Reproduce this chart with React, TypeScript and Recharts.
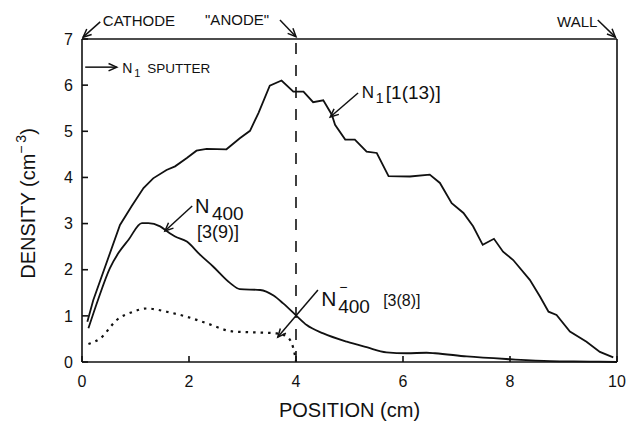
import React from "react";
import {
  LineChart,
  Line,
  XAxis,
  YAxis,
  ReferenceLine,
  ReferenceDot,
  Label,
} from "recharts";

// N1 [1(13)] density
const n1X = [
  0.1, 0.21, 0.71, 0.93, 1.15, 1.33, 1.58, 1.74, 1.96, 2.14, 2.33, 2.7, 2.95,
  3.14, 3.3, 3.51, 3.73, 3.95, 4.14, 4.32, 4.51, 4.67, 4.73, 4.92, 5.1, 5.32,
  5.51, 5.73, 6.13, 6.5, 6.69, 6.91, 7.13, 7.31, 7.49, 7.7, 7.87, 8.06, 8.37,
  8.56, 8.72, 8.87, 9.12, 9.43, 9.68, 9.93,
];
const n1Y = [
  0.87, 1.34, 2.97, 3.38, 3.77, 3.98, 4.16, 4.24, 4.42, 4.58, 4.62, 4.61, 4.85,
  5.01, 5.4, 5.99, 6.1, 5.86, 5.86, 5.63, 5.67, 5.36, 5.14, 4.82, 4.82, 4.56,
  4.53, 4.03, 4.02, 4.06, 3.88, 3.44, 3.23, 2.94, 2.54, 2.67, 2.39, 2.21, 1.78,
  1.42, 1.09, 1.02, 0.66, 0.44, 0.22, 0.1,
];

// N400 [3(9)]
const n400X = [
  0.12, 0.3, 0.52, 0.68, 0.87, 1.12, 1.24, 1.46, 1.64, 1.74, 1.96, 2.21, 2.45,
  2.77, 2.95, 3.33, 3.58, 3.76, 4.01, 4.2, 4.51, 4.95, 5.32, 5.69, 6.07, 6.44,
  6.6, 7.19, 8.0, 8.75, 9.5, 10.0,
];
const n400Y = [
  0.73, 1.35, 2.03, 2.36, 2.65, 3.01, 3.01, 2.94, 2.79, 2.72, 2.61, 2.32, 2.07,
  1.71, 1.58, 1.56, 1.44, 1.27, 1.0, 0.8, 0.62, 0.44, 0.32, 0.21, 0.19, 0.2,
  0.19, 0.12, 0.06, 0.02, 0.01, 0.0,
];

// N-400 [3(8)] (dotted)
const nNegX = [
  0.12, 0.34, 0.65, 0.96, 1.21, 1.58, 1.96, 2.33, 2.83, 3.26, 3.64, 3.83, 3.95,
  4.0,
];
const nNegY = [
  0.39, 0.51, 0.91, 1.09, 1.16, 1.09, 0.98, 0.84, 0.66, 0.64, 0.62, 0.55, 0.3,
  0.02,
];

const xTicks = [0, 2, 4, 6, 8, 10];
const yTicks = [0, 1, 2, 3, 4, 5, 6, 7];

const toPoints = (xs: number[], ys: number[]) =>
  xs.map((x, i) => ({ x, y: ys[i] }));

const FONT = '"Liberation Sans", Arial, Helvetica, sans-serif';
const INK = "#111";

// annotation arrows, in data units
const arrows = [
  { from: { x: 0.34, y: 7.37 }, to: { x: 0.02, y: 7.04 } },
  { from: { x: 3.7, y: 7.41 }, to: { x: 4.0, y: 7.05 } },
  { from: { x: 9.64, y: 7.41 }, to: { x: 9.97, y: 7.04 } },
  { from: { x: 0.06, y: 6.39 }, to: { x: 0.65, y: 6.39 } },
  { from: { x: 5.16, y: 5.83 }, to: { x: 4.64, y: 5.31 } },
  { from: { x: 2.06, y: 3.38 }, to: { x: 1.55, y: 2.84 } },
  { from: { x: 4.41, y: 1.56 }, to: { x: 3.66, y: 0.54 } },
];

type Part = { t: string; dx: number; dy: number; size: number };

const labels: { x: number; y: number; parts: Part[] }[] = [
  { x: 0.39, y: 7.28, parts: [{ t: "CATHODE", dx: 0, dy: 0, size: 15 }] },
  { x: 2.3, y: 7.3, parts: [{ t: '"ANODE"', dx: 0, dy: 0, size: 15 }] },
  { x: 8.88, y: 7.26, parts: [{ t: "WALL", dx: 0, dy: 0, size: 15 }] },
  {
    x: 0.75,
    y: 6.26,
    parts: [
      { t: "N", dx: 0, dy: 0, size: 14 },
      { t: "1", dx: 12, dy: 4, size: 11 },
      { t: "SPUTTER", dx: 25, dy: 0, size: 13.5 },
    ],
  },
  {
    x: 5.23,
    y: 5.72,
    parts: [
      { t: "N", dx: 0, dy: 0, size: 17 },
      { t: "1", dx: 14, dy: 5, size: 14 },
      { t: "[1(13)]", dx: 24, dy: 1, size: 19 },
    ],
  },
  {
    x: 2.11,
    y: 3.23,
    parts: [
      { t: "N", dx: 0, dy: 0, size: 20 },
      { t: "400", dx: 17, dy: 7, size: 19 },
      { t: "[3(9)]", dx: 2, dy: 25, size: 18 },
    ],
  },
  {
    x: 4.47,
    y: 1.21,
    parts: [
      { t: "N", dx: 0, dy: 0, size: 21 },
      { t: "\u2212", dx: 18, dy: -14, size: 14 },
      { t: "400", dx: 17, dy: 7, size: 19 },
      { t: "[3(8)]", dx: 62, dy: 0, size: 16 },
    ],
  },
];

function Arrow(props: any) {
  const { x1, y1, x2, y2 } = props;
  const a = Math.atan2(y2 - y1, x2 - x1);
  const len = 9;
  const s = 0.42;
  const h1 = `${x2 - len * Math.cos(a - s)},${y2 - len * Math.sin(a - s)}`;
  const h2 = `${x2 - len * Math.cos(a + s)},${y2 - len * Math.sin(a + s)}`;
  return (
    <g>
      <line x1={x1} y1={y1} x2={x2} y2={y2} stroke={INK} strokeWidth={1.5} />
      <polyline
        points={`${h1} ${x2},${y2} ${h2}`}
        fill="none"
        stroke={INK}
        strokeWidth={1.5}
      />
    </g>
  );
}

function TextParts({ cx, cy, parts }: { cx: number; cy: number; parts: Part[] }) {
  return (
    <g>
      {parts.map((p, i) => (
        <text
          key={i}
          x={cx + p.dx}
          y={cy + p.dy}
          fontSize={p.size}
          fontFamily={FONT}
          fill={INK}
        >
          {p.t}
        </text>
      ))}
    </g>
  );
}

function DensityTitle(props: any) {
  const vb = props.viewBox;
  const cx = vb.x + 6;
  const cy = vb.y + vb.height / 2 + 3;
  return (
    <text
      x={cx}
      y={cy}
      transform={`rotate(-90 ${cx} ${cy})`}
      textAnchor="middle"
      dominantBaseline="central"
      fontSize={20}
      fontFamily={FONT}
      fill={INK}
    >
      DENSITY (cm
      <tspan dy={-7} fontSize={14}>
        {"\u2212\u20093"}
      </tspan>
      <tspan dy={7}>)</tspan>
    </text>
  );
}

export default function App() {
  return (
    <div style={{ position: "absolute", left: 0, top: 0, background: "#fff" }}>
      <LineChart
        width={628}
        height={422}
        margin={{ top: 38, right: 10, bottom: 30, left: 22 }}
      >
        <XAxis
          dataKey="x"
          type="number"
          domain={[0, 10]}
          ticks={xTicks}
          interval={0}
          height={30}
          tickSize={-6}
          tickMargin={20}
          stroke={INK}
          strokeWidth={1.6}
          tick={{ fill: INK, fontSize: 16, fontFamily: FONT }}
        >
          <Label
            value="POSITION (cm)"
            position="bottom"
            offset={11}
            fill={INK}
            fontSize={20}
            fontFamily={FONT}
          />
        </XAxis>
        <XAxis
          xAxisId="top"
          orientation="top"
          type="number"
          domain={[0, 10]}
          ticks={xTicks}
          interval={0}
          height={1}
          tickSize={-6}
          stroke={INK}
          strokeWidth={1.6}
          tick={() => <g />}
        />
        <YAxis
          type="number"
          domain={[0, 7]}
          ticks={yTicks}
          interval={0}
          width={60}
          tickSize={-6}
          tickMargin={15}
          stroke={INK}
          strokeWidth={1.6}
          tick={{ fill: INK, fontSize: 16, fontFamily: FONT }}
        >
          <Label content={DensityTitle} />
        </YAxis>
        <YAxis
          yAxisId="right"
          orientation="right"
          type="number"
          domain={[0, 7]}
          ticks={yTicks}
          interval={0}
          width={1}
          tickSize={-6}
          stroke={INK}
          strokeWidth={1.6}
          tick={() => <g />}
        />

        <ReferenceLine
          x={4}
          stroke={INK}
          strokeWidth={1.6}
          strokeDasharray="11 11"
        />

        <Line
          data={toPoints(n1X, n1Y)}
          dataKey="y"
          type="linear"
          stroke={INK}
          strokeWidth={1.8}
          dot={false}
          isAnimationActive={false}
        />
        <Line
          data={toPoints(n400X, n400Y)}
          dataKey="y"
          type="monotone"
          stroke={INK}
          strokeWidth={1.8}
          dot={false}
          isAnimationActive={false}
        />
        <Line
          data={toPoints(nNegX, nNegY)}
          dataKey="y"
          type="monotone"
          stroke={INK}
          strokeWidth={2.2}
          strokeDasharray="2.5 5"
          dot={false}
          isAnimationActive={false}
        />

        {arrows.map((a, i) => (
          <ReferenceLine
            key={`arrow-${i}`}
            segment={[a.from, a.to]}
            ifOverflow="visible"
            shape={(p: any) => <Arrow {...p} />}
          />
        ))}
        {labels.map((l, i) => (
          <ReferenceDot
            key={`label-${i}`}
            x={l.x}
            y={l.y}
            r={0}
            ifOverflow="visible"
            shape={(p: any) => <TextParts cx={p.cx} cy={p.cy} parts={l.parts} />}
          />
        ))}
      </LineChart>
    </div>
  );
}
